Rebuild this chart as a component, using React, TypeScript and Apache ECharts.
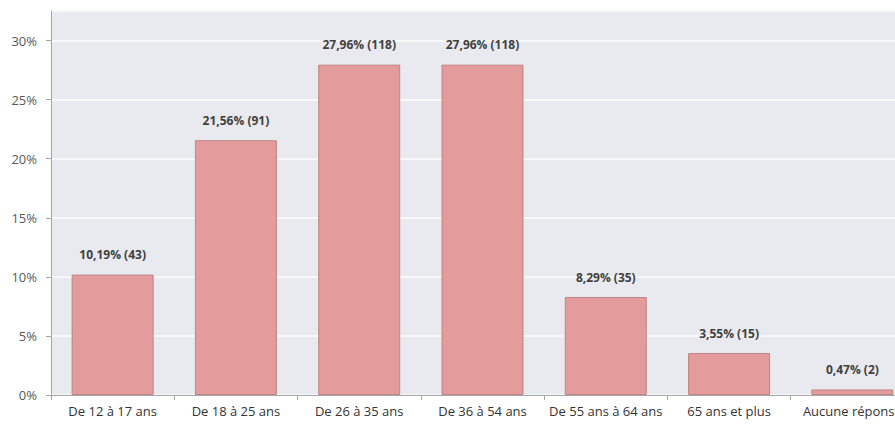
import React, { useEffect, useRef } from "react";
import * as echarts from "echarts";

const categories = [
  "De 12 à 17 ans",
  "De 18 à 25 ans",
  "De 26 à 35 ans",
  "De 36 à 54 ans",
  "De 55 ans à 64 ans",
  "65 ans et plus",
  "Aucune réponse",
];
const percents = [10.19, 21.56, 27.96, 27.96, 8.29, 3.55, 0.47];
const counts = [43, 91, 118, 118, 35, 15, 2];
const yTicks = [0, 5, 10, 15, 20, 25, 30];

const FONT = "'Open Sans', sans-serif";

export default function App() {
  const ref = useRef<HTMLDivElement>(null);
  useEffect(() => {
    if (!ref.current) return;
    const chart = echarts.init(ref.current, null, { renderer: "svg" });
    chart.setOption({
      animation: false,
      backgroundColor: "#ffffff",
      grid: {
        left: 51,
        width: 863,
        top: 11,
        bottom: 32,
        show: true,
        backgroundColor: "#e9eaef",
        borderWidth: 0,
        outerBoundsMode: "none",
        containLabel: false,
      },
      xAxis: {
        type: "category",
        data: categories,
        axisLine: { show: true, lineStyle: { color: "#a6a6a6", width: 1 } },
        axisTick: { show: true, length: 5, lineStyle: { color: "#a6a6a6" } },
        axisLabel: {
          color: "#333333",
          fontFamily: FONT,
          fontSize: 13,
          margin: 9,
          interval: 0,
        },
      },
      yAxis: {
        type: "value",
        min: 0,
        max: 32.5,
        interval: 5,
        axisLine: { show: true, lineStyle: { color: "#a6a6a6", width: 1 } },
        axisTick: { show: true, length: 5, lineStyle: { color: "#a6a6a6" } },
        axisLabel: {
          color: "#595959",
          fontFamily: FONT,
          fontSize: 13,
          margin: 14,
          showMaxLabel: false,
          formatter: (v: number) => (yTicks.includes(v) ? v + "%" : ""),
        },
        splitLine: { show: true, lineStyle: { color: "#f7f8fa", width: 2 } },
      },
      series: [
        {
          type: "bar",
          data: percents,
          barWidth: 82,
          itemStyle: {
            color: "#e39b9b",
            borderColor: "#bf8585",
            borderWidth: 1,
          },
          label: {
            show: true,
            position: "top",
            distance: 14,
            color: "#404040",
            fontFamily: FONT,
            fontWeight: "bold",
            fontSize: 12,
            formatter: (p: any) =>
              percents[p.dataIndex].toFixed(2).replace(".", ",") +
              "% (" +
              counts[p.dataIndex] +
              ")",
          },
        },
      ],
    });
    return () => chart.dispose();
  }, []);
  return (
    <div
      ref={ref}
      style={{ position: "fixed", left: 0, top: 0, width: 895, height: 427 }}
    />
  );
}
